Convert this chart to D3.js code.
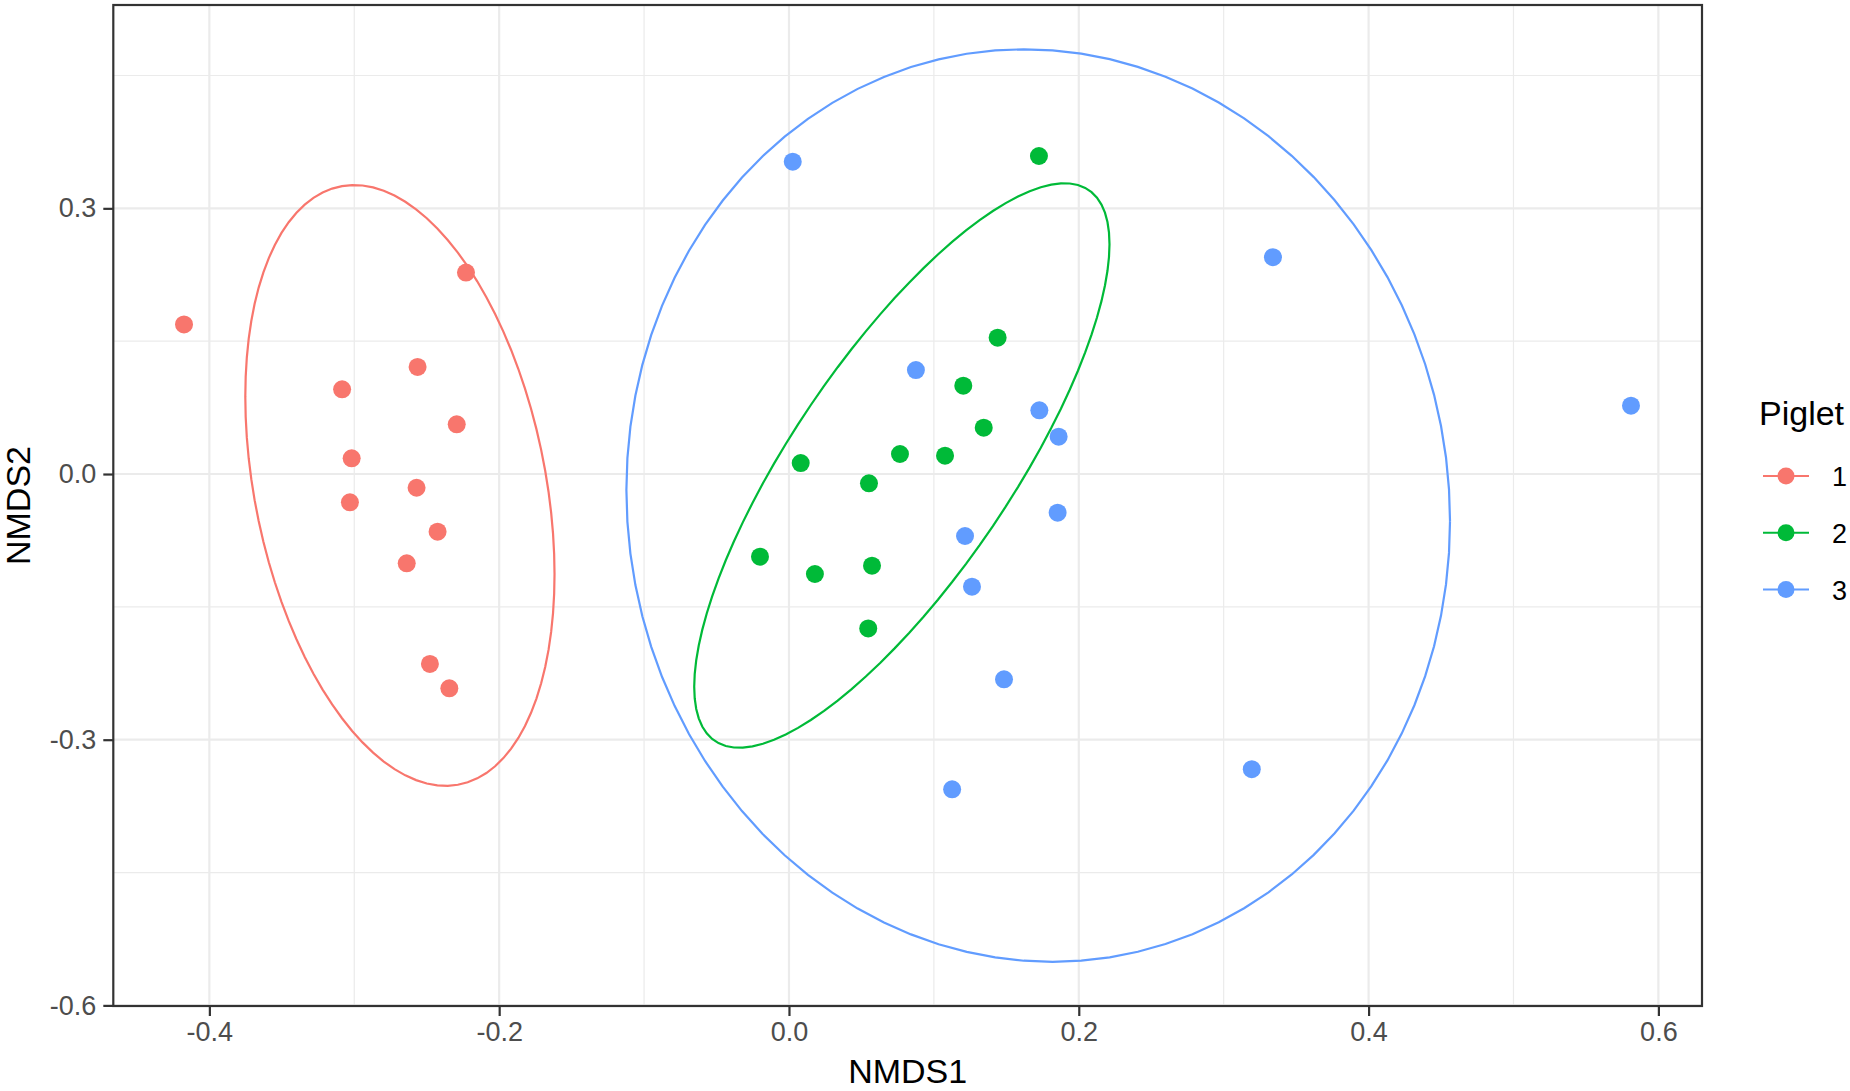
<!DOCTYPE html>
<html>
<head>
<meta charset="utf-8">
<script src="https://cdn.jsdelivr.net/npm/d3@7"></script>
<style>
  body { margin: 0; background: #fff; }
  svg { display: block; font-family: "Liberation Sans", Arial, sans-serif; }
</style>
</head>
<body>
<div id="chart"></div>
<script>
// groups and colours
const groups = ["1", "2", "3"];
const groupColors = ["#F8766D", "#00BA38", "#619CFF"];

// NMDS scores
const piglet1X = [-0.4175, -0.2229, -0.2563, -0.3084, -0.2293, -0.3018, -0.2570, -0.3030, -0.2425, -0.2638, -0.2478, -0.2344];
const piglet1Y = [0.1689, 0.2275, 0.1209, 0.0956, 0.0561, 0.0177, -0.0155, -0.0320, -0.0651, -0.1009, -0.2145, -0.2420];
const piglet2X = [0.1725, 0.1440, 0.1203, 0.1344, 0.0766, 0.1077, 0.0081, 0.0552, -0.0200, 0.0179, 0.0573, 0.0547];
const piglet2Y = [0.3591, 0.1539, 0.0997, 0.0523, 0.0226, 0.0207, 0.0124, -0.0105, -0.0934, -0.1129, -0.1035, -0.1743];
const piglet3X = [0.0026, 0.3340, 0.0876, 0.1728, 0.5811, 0.1861, 0.1854, 0.1215, 0.1263, 0.1484, 0.3194, 0.1126];
const piglet3Y = [0.3527, 0.2448, 0.1174, 0.0719, 0.0771, 0.0421, -0.0437, -0.0700, -0.1272, -0.2318, -0.3333, -0.3560];

// ellipse per group: centre, half extents and cross term (data units)
const ellipseCx = [-0.2685, 0.0779, 0.1720];
const ellipseCy = [-0.0129, 0.0096, -0.0356];
const ellipseSdx = [0.1067, 0.1433, 0.2842];
const ellipseSdy = [0.3392, 0.3187, 0.5152];
const ellipseCov = [-0.0107, 0.0358, -0.0050];

// ticks
const xTicks = [-0.4, -0.2, 0.0, 0.2, 0.4, 0.6];
const xMinor = [-0.3, -0.1, 0.1, 0.3, 0.5];
const yTicks = [-0.6, -0.3, 0.0, 0.3];
const yMinor = [-0.45, -0.15, 0.15, 0.45];

const W = 1850, H = 1091;
const panel = {left: 113.3, right: 1702, top: 5, bottom: 1006};

const svg = d3.select("#chart").append("svg")
  .attr("width", W).attr("height", H);

const x = d3.scaleLinear().domain([-0.4663, 0.6301]).range([panel.left, panel.right]);
const y = d3.scaleLinear().domain([-0.6007, 0.5296]).range([panel.bottom, panel.top]);

// grid
const grid = svg.append("g");
grid.selectAll(".xmin").data(xMinor).join("line")
  .attr("x1", d => x(d)).attr("x2", d => x(d))
  .attr("y1", panel.top).attr("y2", panel.bottom)
  .attr("stroke", "#EBEBEB").attr("stroke-width", 1.2);
grid.selectAll(".ymin").data(yMinor).join("line")
  .attr("y1", d => y(d)).attr("y2", d => y(d))
  .attr("x1", panel.left).attr("x2", panel.right)
  .attr("stroke", "#EBEBEB").attr("stroke-width", 1.2);
grid.selectAll(".xmaj").data(xTicks).join("line")
  .attr("x1", d => x(d)).attr("x2", d => x(d))
  .attr("y1", panel.top).attr("y2", panel.bottom)
  .attr("stroke", "#EBEBEB").attr("stroke-width", 2.2);
grid.selectAll(".ymaj").data(yTicks).join("line")
  .attr("y1", d => y(d)).attr("y2", d => y(d))
  .attr("x1", panel.left).attr("x2", panel.right)
  .attr("stroke", "#EBEBEB").attr("stroke-width", 2.2);

// points
const series = [
  d3.zip(piglet1X, piglet1Y),
  d3.zip(piglet2X, piglet2Y),
  d3.zip(piglet3X, piglet3Y)
];
series.forEach((pts, i) => {
  svg.append("g").selectAll("circle").data(pts).join("circle")
    .attr("cx", d => x(d[0]))
    .attr("cy", d => y(d[1]))
    .attr("r", 9)
    .attr("fill", groupColors[i]);
});

// ellipses
const line = d3.line().x(d => x(d[0])).y(d => y(d[1]));
const nSeg = 90;
groups.forEach((g, i) => {
  const a = ellipseSdx[i];
  const c = ellipseCov[i] / a;
  const d = Math.sqrt(ellipseSdy[i] * ellipseSdy[i] - c * c);
  const pts = d3.range(nSeg + 1).map(k => {
    const t = 2 * Math.PI * k / nSeg;
    return [ellipseCx[i] + a * Math.cos(t), ellipseCy[i] + c * Math.cos(t) + d * Math.sin(t)];
  });
  svg.append("path").datum(pts)
    .attr("d", line)
    .attr("fill", "none")
    .attr("stroke", groupColors[i])
    .attr("stroke-width", 2.2);
});

// panel border
svg.append("rect")
  .attr("x", panel.left).attr("y", panel.top)
  .attr("width", panel.right - panel.left).attr("height", panel.bottom - panel.top)
  .attr("fill", "none").attr("stroke", "#333333").attr("stroke-width", 2.2);

// axes (plain hyphen for the minus sign, like R)
const fmt = v => d3.format(".1f")(v).replace("\u2212", "-");
const xAxis = svg.append("g")
  .attr("transform", `translate(0,${panel.bottom})`)
  .call(d3.axisBottom(x).tickValues(xTicks).tickFormat(fmt).tickSize(10).tickPadding(6));
const yAxis = svg.append("g")
  .attr("transform", `translate(${panel.left},0)`)
  .call(d3.axisLeft(y).tickValues(yTicks).tickFormat(fmt).tickSize(10).tickPadding(7));
[xAxis, yAxis].forEach(ax => {
  ax.select(".domain").remove();
  ax.selectAll(".tick line").attr("stroke", "#333333").attr("stroke-width", 2.2);
  ax.selectAll(".tick text")
    .attr("fill", "#4D4D4D")
    .style("font-size", "27px");
});

// axis titles
svg.append("text")
  .attr("x", (panel.left + panel.right) / 2).attr("y", 1083)
  .attr("text-anchor", "middle")
  .style("font-size", "34px")
  .text("NMDS1");
svg.append("text")
  .attr("transform", `translate(30,${(panel.top + panel.bottom) / 2}) rotate(-90)`)
  .attr("text-anchor", "middle")
  .style("font-size", "34px")
  .text("NMDS2");

// legend
const legend = svg.append("g");
legend.append("text")
  .attr("x", 1759).attr("y", 425)
  .style("font-size", "34px")
  .text("Piglet");
const keyY = d3.scaleLinear().domain([0, 2]).range([476, 589.5]);
groups.forEach((g, i) => {
  const ky = keyY(i);
  legend.append("line")
    .attr("x1", 1763).attr("x2", 1809)
    .attr("y1", ky).attr("y2", ky)
    .attr("stroke", groupColors[i]).attr("stroke-width", 2.2);
  legend.append("circle")
    .attr("cx", 1786).attr("cy", ky).attr("r", 8.5)
    .attr("fill", groupColors[i]);
  legend.append("text")
    .attr("x", 1832).attr("y", ky + 10)
    .style("font-size", "27px")
    .text(g);
});
</script>
</body>
</html>
